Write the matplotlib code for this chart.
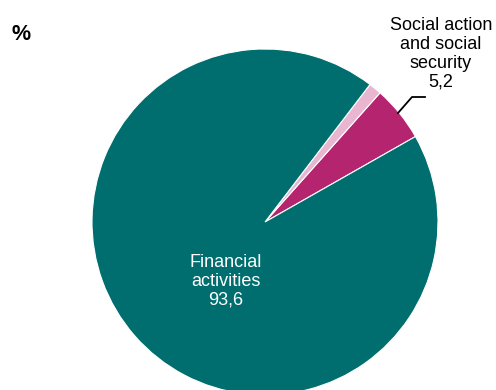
import matplotlib
matplotlib.use("Agg")
import matplotlib.pyplot as plt

plt.rcParams['font.family'] = ['Liberation Sans', 'DejaVu Sans']

categories = ["Social action and social security", "Other", "Financial activities"]
values = [5.2, 1.2, 93.6]
colors = ["#b5246f", "#e9b6d2", "#006e6e"]

fig = plt.figure(figsize=(4.96, 3.9), dpi=100)
ax = fig.add_axes([0, 0, 1, 1])
ax.set_xlim(0, 496)
ax.set_ylim(0, 390)
ax.set_aspect('equal')
ax.axis('off')

cx, cy, r = 265, 168, 173
ax.pie(values, colors=colors, startangle=29.6, counterclock=True,
       center=(cx, cy), radius=r,
       wedgeprops=dict(linewidth=0.8, edgecolor='white'))
ax.set_xlim(0, 496)
ax.set_ylim(0, 390)

ax.text(11, 355, "%", fontsize=15.5, fontweight='bold', ha='left', va='center')

ax.text(441, 336, "Social action\nand social\nsecurity\n" + f"{values[0]:.1f}".replace('.', ','),
        fontsize=13, ha='center', va='center', linespacing=1.13)

ax.plot([398, 412, 425], [277, 293, 293], color='black', lw=1.3)

ax.text(226, 109, "Financial\nactivities\n" + f"{values[2]:.1f}".replace('.', ','),
        fontsize=13, ha='center', va='center', color='white', linespacing=1.13)

fig.savefig("out.png", dpi=100)
